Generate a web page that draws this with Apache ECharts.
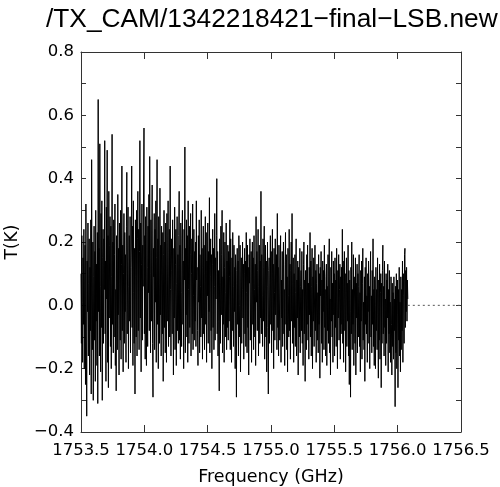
<!DOCTYPE html>
<html>
<head>
<meta charset="utf-8">
<style>html,body{margin:0;padding:0;background:#fff;}#c{width:500px;height:487px;}</style>
<script src="https://cdn.jsdelivr.net/npm/echarts@6/dist/echarts.min.js"></script>
</head>
<body>
<div id="c"></div>
<script>
const titleText = "/TX_CAM/1342218421\u2212final\u2212LSB.new";
const xAxisTitle = "Frequency (GHz)";
const yAxisTitle = "T(K)";
const xTicks = [1753.5, 1754.0, 1754.5, 1755.0, 1755.5, 1756.0, 1756.5];
const yTicks = [-0.4, -0.2, 0.0, 0.2, 0.4, 0.6, 0.8];
const freqStart = 1753.50;
const freqEnd = 1756.08;
const baselineX = [1756.08, 1756.5];
const baselineY = [0, 0];
const spectrum = [
0.10,-0.12,0.22,0.01,-0.18,0.15,-0.06,0.24,-0.20,0.08,0.19,-0.25,0.32,-0.10,-0.35,0.14,-0.02,0.26,-0.16,0.07,
0.21,-0.22,0.12,-0.08,0.27,-0.28,0.46,0.03,-0.14,0.20,-0.30,0.09,0.25,-0.11,0.17,-0.24,0.30,-0.05,0.13,-0.19,
0.23,-0.31,0.65,-0.02,0.18,-0.16,0.51,0.06,-0.21,0.29,-0.07,0.33,-0.30,0.15,0.24,-0.12,0.21,0.05,0.52,-0.09,
0.14,-0.24,0.31,0.02,0.49,-0.18,0.22,-0.26,0.36,-0.04,0.19,0.28,-0.13,0.25,-0.20,0.09,0.54,-0.06,0.20,-0.15,
0.27,-0.10,0.16,0.32,-0.19,0.05,-0.27,0.22,0.11,-0.14,0.35,-0.03,0.18,-0.22,0.26,0.07,-0.11,0.30,-0.17,0.13,
0.44,-0.08,0.19,-0.21,0.10,0.29,-0.12,0.23,-0.02,0.16,-0.18,0.25,0.42,-0.09,0.14,0.31,-0.20,0.06,0.22,-0.05,
0.28,-0.15,0.12,0.20,0.44,-0.07,0.25,-0.19,0.33,0.04,-0.12,0.18,-0.28,0.27,0.09,-0.10,0.30,-0.16,0.21,0.36,
-0.08,0.24,-0.14,0.17,0.52,-0.04,0.26,-0.21,0.13,0.32,-0.11,0.19,0.06,0.38,0.56,-0.09,0.22,-0.17,0.28,0.02,
-0.19,0.31,0.12,-0.13,0.25,0.04,0.35,-0.08,0.47,0.10,-0.15,0.27,-0.05,0.20,0.38,-0.12,-0.29,0.18,0.09,0.29,
-0.14,0.24,0.01,0.33,-0.18,0.15,0.46,-0.06,0.21,-0.20,0.28,0.07,-0.12,0.37,-0.03,0.19,-0.16,0.25,0.11,-0.09,
0.23,-0.24,0.16,0.30,-0.07,0.20,-0.15,0.26,0.03,-0.18,0.29,-0.05,0.14,0.33,-0.13,0.09,0.24,-0.10,0.44,0.05,
-0.16,0.21,0.11,-0.09,0.27,0.02,-0.22,0.18,-0.04,0.31,-0.14,0.13,0.24,-0.19,0.07,0.28,-0.08,0.16,-0.12,0.22,
0.36,-0.11,0.19,-0.17,0.26,0.04,-0.13,0.21,0.30,-0.06,0.14,-0.20,0.24,0.08,0.50,-0.15,0.18,-0.03,0.27,-0.10,
0.22,-0.18,0.33,0.05,-0.12,0.25,-0.07,0.16,0.29,-0.16,0.10,0.21,-0.09,0.32,-0.14,0.03,0.24,-0.11,0.17,-0.05,
0.20,-0.13,0.33,0.08,0.12,-0.08,-0.19,0.22,0.01,0.27,-0.15,0.16,0.06,-0.10,0.30,-0.04,0.18,-0.17,0.12,0.25,
-0.09,0.19,-0.14,0.10,0.28,-0.06,0.23,-0.18,0.14,0.03,0.26,-0.12,0.17,-0.02,0.34,-0.15,0.09,0.21,-0.08,0.16,
-0.20,0.13,0.24,-0.07,0.18,-0.14,0.06,0.29,-0.11,0.15,0.02,0.22,0.40,-0.09,0.17,-0.16,0.11,-0.05,-0.27,0.21,
0.08,-0.12,0.25,-0.03,0.16,0.30,-0.15,0.09,-0.06,0.23,-0.18,0.12,0.20,-0.10,0.04,0.26,-0.14,0.14,-0.07,0.19,
-0.11,0.17,-0.05,0.09,0.27,-0.14,0.21,0.02,-0.18,0.15,-0.08,0.23,0.06,-0.13,0.19,-0.02,0.12,-0.20,0.16,0.07,
-0.29,0.11,0.18,-0.06,0.14,-0.16,0.22,0.00,-0.10,0.19,-0.21,0.08,0.15,-0.12,0.05,0.20,-0.04,0.13,-0.17,0.10,
0.18,-0.09,0.14,-0.13,0.23,0.04,-0.15,0.19,-0.07,0.12,-0.22,0.16,0.07,0.21,-0.11,0.02,0.17,-0.18,0.10,0.20,
-0.06,0.15,-0.14,0.22,0.05,-0.10,0.13,-0.19,0.28,0.01,0.17,-0.08,0.11,0.24,-0.16,0.06,0.19,-0.12,0.14,-0.04,
0.36,-0.09,0.16,0.03,-0.13,0.21,-0.05,0.12,0.25,-0.17,0.08,0.19,-0.10,0.14,-0.21,0.06,0.20,-0.07,-0.28,0.11,
0.15,-0.12,0.07,0.22,-0.06,0.17,-0.15,0.10,0.24,-0.08,0.13,-0.20,0.18,0.04,-0.11,0.21,-0.03,0.09,0.16,-0.14,
0.29,-0.07,0.12,-0.16,0.19,0.02,-0.11,0.14,0.22,-0.18,0.08,-0.04,0.17,-0.13,0.10,0.20,-0.09,0.05,-0.19,0.13,
0.23,-0.06,0.16,-0.14,0.09,-0.21,0.18,0.03,-0.10,0.24,-0.08,0.13,-0.17,0.11,0.20,-0.05,0.29,-0.12,0.07,0.15,
-0.18,0.10,-0.07,0.16,-0.13,0.04,0.21,-0.16,0.08,-0.04,0.14,-0.22,0.12,0.02,-0.10,0.18,-0.15,0.06,0.11,-0.08,
0.17,-0.12,0.05,-0.19,0.13,0.20,-0.09,0.08,-0.24,0.11,0.03,-0.14,0.16,-0.06,0.19,-0.11,0.07,-0.17,0.12,-0.03,
0.23,-0.10,0.14,-0.16,0.06,0.18,-0.20,0.09,-0.05,0.15,-0.13,0.02,0.19,-0.08,0.11,-0.18,0.07,0.13,-0.11,0.04,
-0.15,0.16,-0.06,0.10,-0.23,0.12,0.03,0.17,-0.12,0.08,-0.18,0.14,-0.02,0.11,-0.14,0.19,-0.07,0.05,-0.16,0.09,
0.13,-0.19,0.06,-0.08,0.16,-0.12,0.09,0.21,-0.15,0.02,-0.22,0.12,-0.05,0.17,-0.10,0.07,-0.18,0.14,-0.03,0.10,
-0.16,0.15,-0.07,0.08,-0.13,0.18,0.01,-0.20,0.11,-0.04,0.16,-0.11,0.05,0.13,-0.17,0.09,-0.06,0.12,-0.09,0.24,
-0.12,0.14,-0.18,0.06,0.17,-0.08,0.10,-0.21,0.04,0.15,-0.13,0.07,-0.05,0.19,-0.16,0.11,-0.25,0.08,-0.02,-0.29,
0.12,-0.09,0.20,-0.14,0.05,-0.06,0.16,-0.19,0.09,0.02,-0.12,0.15,-0.22,0.07,-0.04,0.13,-0.15,0.10,-0.10,0.06,
0.16,-0.13,0.04,-0.21,0.11,-0.05,0.14,-0.17,0.07,0.18,-0.11,0.01,-0.14,0.09,-0.24,0.12,-0.06,0.15,-0.09,0.03,
-0.18,0.10,-0.02,0.14,-0.12,0.06,-0.20,0.08,0.17,-0.10,0.03,-0.15,0.11,-0.06,0.21,-0.13,0.05,-0.19,0.09,0.00,
-0.20,0.12,-0.08,0.05,-0.14,0.15,-0.03,-0.23,0.08,-0.11,0.13,-0.17,0.04,0.10,-0.26,0.07,-0.12,0.11,0.19,-0.09,
0.06,-0.16,0.14,-0.07,0.02,-0.19,0.10,-0.12,0.08,-0.04,0.13,-0.21,0.05,-0.09,0.11,-0.15,0.01,-0.18,0.09,-0.06,
-0.22,0.07,-0.13,0.04,-0.17,0.09,-0.08,0.02,-0.32,0.06,-0.15,0.10,-0.20,-0.03,0.08,-0.26,0.05,-0.11,0.12,-0.16,
0.01,-0.21,0.09,-0.14,0.05,-0.08,0.14,-0.18,0.10,0.03,-0.12,0.16,0.18,-0.07,0.11,-0.02,0.12,-0.05,0.08,0.02
];

const step = (freqEnd - freqStart) / (spectrum.length - 1);
const lineData = spectrum.map((v, i) => [freqStart + i * step, v]);
const baseData = baselineX.map((x, i) => [x, baselineY[i]]);

const axisColor = '#333';
const tickFont = { fontFamily: 'DejaVu Sans', fontSize: 16.5, color: '#000' };

const chart = echarts.init(document.getElementById('c'), null, { renderer: 'canvas' });
chart.setOption({
  animation: false,
  backgroundColor: '#fff',
  title: {
    text: titleText, left: 41, top: 2,
    textStyle: { fontFamily: 'Liberation Sans', fontSize: 26.3, fontWeight: 'normal', color: '#000' }
  },
  grid: { left: 81, right: 39, top: 52, bottom: 55, containLabel: false, outerBoundsMode: 'none' },
  xAxis: [{
    type: 'value', min: xTicks[0], max: xTicks[xTicks.length - 1], interval: 0.5,
    name: xAxisTitle, nameLocation: 'middle', nameGap: 36,
    nameTextStyle: { fontFamily: 'DejaVu Sans', fontSize: 17.5, color: '#000' },
    axisLine: { show: true, onZero: false, lineStyle: { color: axisColor, width: 1 } },
    axisTick: { show: true, inside: true, length: 7, lineStyle: { color: axisColor } },
    axisLabel: Object.assign({ margin: 10, formatter: v => v.toFixed(1) }, tickFont),
    splitLine: { show: false }
  }, {
    type: 'value', position: 'top', min: xTicks[0], max: xTicks[xTicks.length - 1], interval: 0.5,
    axisLine: { show: true, onZero: false, lineStyle: { color: axisColor, width: 1 } },
    axisTick: { show: true, inside: true, length: 7, lineStyle: { color: axisColor } },
    axisLabel: { show: false }, splitLine: { show: false }
  }],
  yAxis: [{
    type: 'value', min: yTicks[0], max: yTicks[yTicks.length - 1], interval: 0.2,
    name: yAxisTitle, nameLocation: 'middle', nameGap: 60, nameRotate: 90,
    nameTextStyle: { fontFamily: 'DejaVu Sans', fontSize: 17, color: '#000' },
    axisLine: { show: true, onZero: false, lineStyle: { color: axisColor, width: 1 } },
    axisTick: { show: true, inside: true, length: 5, lineStyle: { color: axisColor } },
    minorTick: { show: true, splitNumber: 2, length: 5, lineStyle: { color: axisColor } },
    axisLabel: Object.assign({ margin: 7, formatter: v => (v < 0 ? '\u2212' : '') + Math.abs(v).toFixed(1) }, tickFont),
    splitLine: { show: false }, minorSplitLine: { show: false }
  }, {
    type: 'value', position: 'right', min: yTicks[0], max: yTicks[yTicks.length - 1], interval: 0.2,
    axisLine: { show: true, onZero: false, lineStyle: { color: axisColor, width: 1 } },
    axisTick: { show: true, inside: true, length: 5, lineStyle: { color: axisColor } },
    minorTick: { show: true, splitNumber: 2, length: 5, lineStyle: { color: axisColor } },
    axisLabel: { show: false }, splitLine: { show: false }, minorSplitLine: { show: false }
  }],
  series: [{
    type: 'line', data: lineData, showSymbol: false, symbol: 'none', sampling: null,
    lineStyle: { color: '#000', width: 1 }, z: 3
  }, {
    type: 'line', data: baseData, showSymbol: false, symbol: 'none',
    lineStyle: { color: '#555', width: 1, type: [2, 3] }
  }]
});
</script>
</body>
</html>
